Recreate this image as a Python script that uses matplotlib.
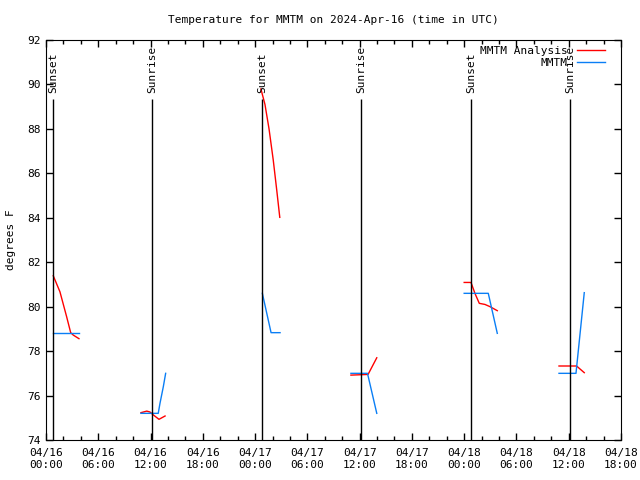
import matplotlib
matplotlib.use('Agg')
import matplotlib.pyplot as plt
import matplotlib.dates as mdates
import pandas as pd

# analysis (red) and observed (blue) temperatures, one list per gap-free stretch
analysis_times = [
    ['2024-04-16 00:50', '2024-04-16 01:36', '2024-04-16 02:22', '2024-04-16 02:50', '2024-04-16 03:08', '2024-04-16 03:47'],
    ['2024-04-16 10:54', '2024-04-16 11:34', '2024-04-16 11:56', '2024-04-16 12:15', '2024-04-16 12:58', '2024-04-16 13:40'],
    ['2024-04-17 00:40', '2024-04-17 01:08', '2024-04-17 01:36', '2024-04-17 02:05', '2024-04-17 02:29', '2024-04-17 02:50'],
    ['2024-04-17 11:00', '2024-04-17 12:58', '2024-04-17 13:58'],
    ['2024-04-18 00:00', '2024-04-18 00:47', '2024-04-18 01:14', '2024-04-18 01:44', '2024-04-18 02:23', '2024-04-18 02:58', '2024-04-18 03:48'],
    ['2024-04-18 10:53', '2024-04-18 12:54', '2024-04-18 13:47'],
]
analysis_temps = [
    [81.39, 80.67, 79.55, 78.83, 78.72, 78.56],
    [75.23, 75.30, 75.26, 75.15, 74.93, 75.08],
    [89.8, 89.1, 88.0, 86.6, 85.25, 84.02],
    [76.92, 76.95, 77.7],
    [81.09, 81.09, 80.6, 80.15, 80.1, 80.0, 79.82],
    [77.33, 77.33, 77.03],
]
obs_times = [
    ['2024-04-16 00:50', '2024-04-16 03:47'],
    ['2024-04-16 10:54', '2024-04-16 12:53', '2024-04-16 13:05', '2024-04-16 13:28', '2024-04-16 13:44'],
    ['2024-04-17 00:50', '2024-04-17 01:50', '2024-04-17 02:52'],
    ['2024-04-17 11:00', '2024-04-17 12:54', '2024-04-17 13:58'],
    ['2024-04-18 00:00', '2024-04-18 02:46', '2024-04-18 03:48'],
    ['2024-04-18 10:53', '2024-04-18 12:50', '2024-04-18 13:47'],
]
obs_temps = [
    [78.8, 78.8],
    [75.2, 75.2, 75.65, 76.4, 77.0],
    [80.6, 78.83, 78.83],
    [77.0, 77.0, 75.2],
    [80.6, 80.6, 78.8],
    [77.0, 77.0, 80.63],
]

sun_times = ['2024-04-16 00:48', '2024-04-16 12:10', '2024-04-17 00:48',
             '2024-04-17 12:10', '2024-04-18 00:48', '2024-04-18 12:09']
sun_labels = ['Sunset', 'Sunrise', 'Sunset', 'Sunrise', 'Sunset', 'Sunrise']

plt.rcParams['font.family'] = 'DejaVu Sans Mono'
plt.rcParams['font.size'] = 8

fig = plt.figure(figsize=(6.4, 4.8), dpi=100)
ax = fig.add_axes([46 / 640, 40 / 480, 575 / 640, 400 / 480])

for i, (t, v) in enumerate(zip(analysis_times, analysis_temps)):
    ax.plot(pd.to_datetime(t), v, color='#ff0000', lw=1,
            label='MMTM Analysis' if i == 0 else None)
for i, (t, v) in enumerate(zip(obs_times, obs_temps)):
    ax.plot(pd.to_datetime(t), v, color='#0a7ef5', lw=1,
            label='MMTM' if i == 0 else None)

for t, lab in zip(pd.to_datetime(sun_times), sun_labels):
    ax.vlines(t, 74, 89.33, color='black', lw=1)
    ax.text(t, 89.6, lab, rotation=90, ha='center', va='bottom', fontsize=8)

ax.set_xlim(pd.Timestamp('2024-04-16 00:00'), pd.Timestamp('2024-04-18 18:00'))
ax.set_ylim(74, 92)
ax.set_yticks(range(74, 93, 2))
ax.xaxis.set_major_locator(mdates.HourLocator(byhour=[0, 6, 12, 18]))
ax.xaxis.set_minor_locator(mdates.HourLocator(byhour=range(0, 24, 2)))
ax.xaxis.set_major_formatter(mdates.DateFormatter('%m/%d\n%H:%M'))
ax.tick_params(which='both', direction='in', top=True, right=True, width=1)
ax.tick_params(which='major', length=5, pad=6)
ax.tick_params(which='minor', length=3)
ax.tick_params(axis='y', pad=4)

ax.set_title('Temperature for MMTM on 2024-Apr-16 (time in UTC)', fontsize=8, pad=12)
ax.set_ylabel('degrees F', labelpad=8)

ax.legend(loc='upper right', bbox_to_anchor=(1 - 10 / 575, 1), frameon=False,
          markerfirst=False, fontsize=8, handlelength=2.6, labelspacing=0.25,
          borderaxespad=0.1, handletextpad=0.8)

plt.savefig('out.png', dpi=100)
